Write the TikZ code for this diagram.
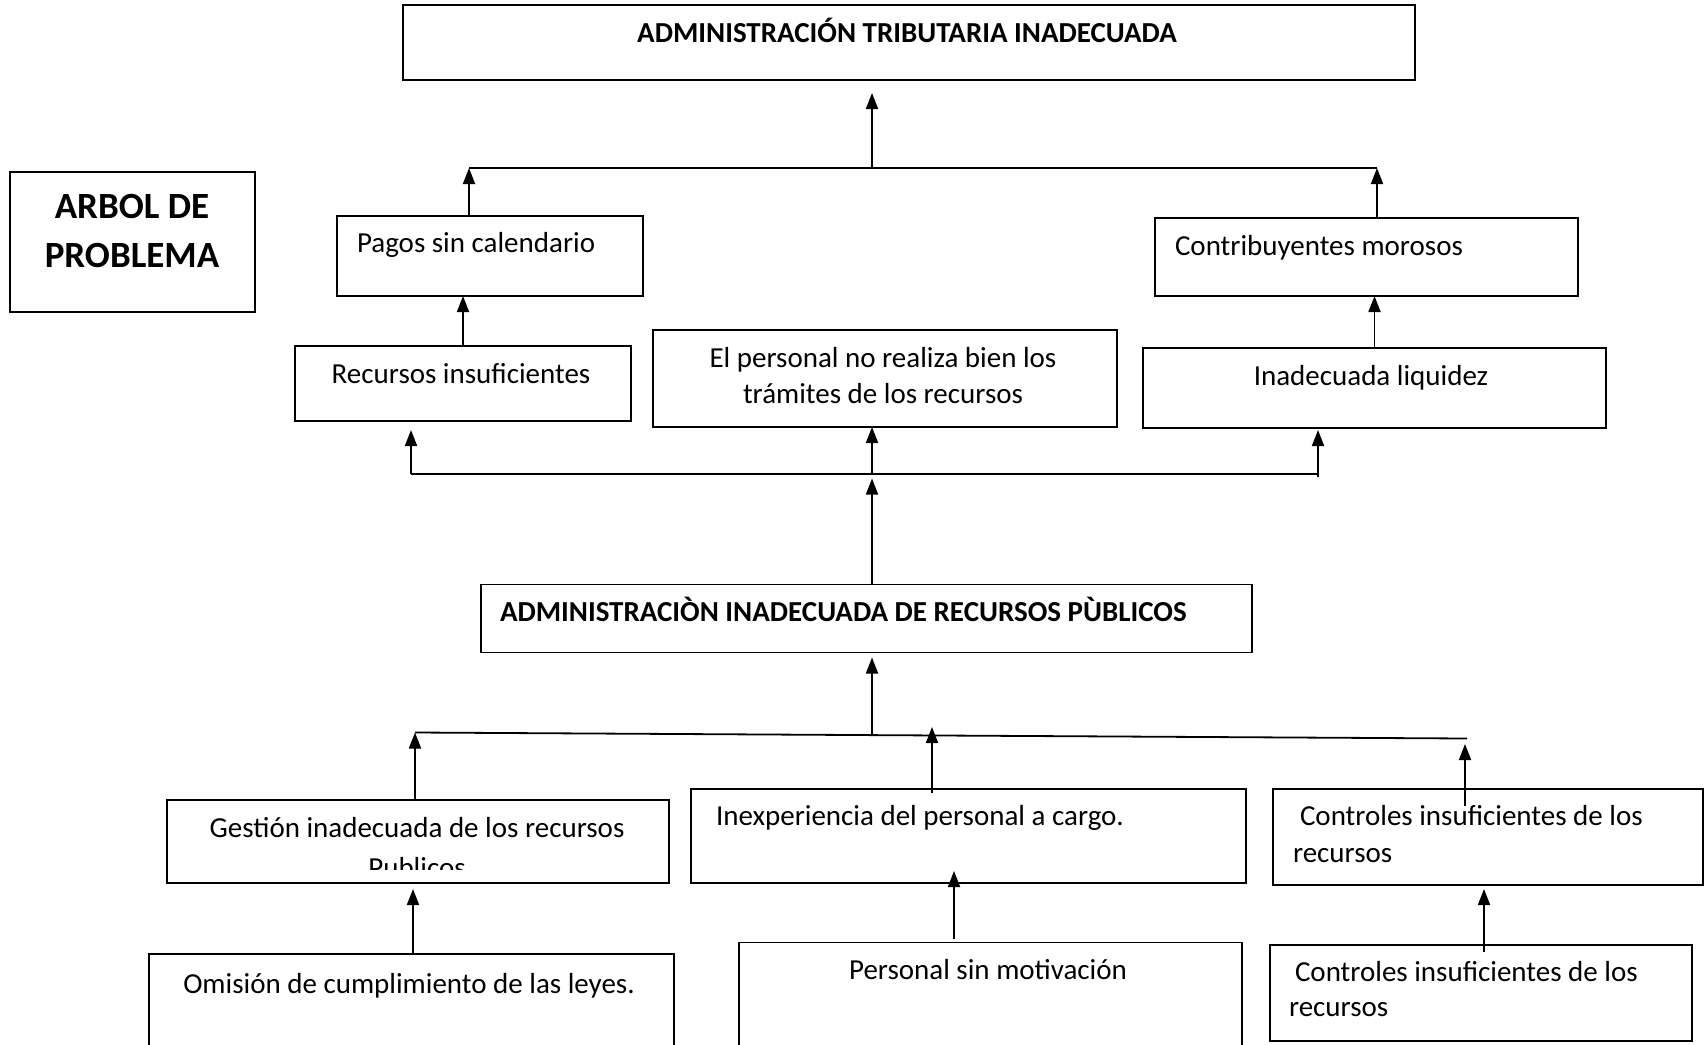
\documentclass[tikz,border=0pt]{standalone}
\usepackage{fontspec}
\setmainfont{Carlito}
\usetikzlibrary{arrows.meta}
\begin{document}
\begin{tikzpicture}[x=1pt,y=-1pt,
  box/.style={draw, line width=1.8pt, rectangle, inner sep=0pt, outer sep=0pt},
  txt/.style={inner sep=0pt, outer sep=0pt, font=\fontsize{29}{36}\selectfont},
  btxt/.style={inner sep=0pt, outer sep=0pt, font=\fontsize{29}{36}\selectfont\bfseries},
  big/.style={inner sep=0pt, outer sep=0pt, font=\fontsize{37}{44}\selectfont\bfseries},
  arr/.style={line width=1.8pt, -{Triangle[length=16pt,width=12pt]}},
  ln/.style={line width=1.8pt}]
\useasboundingbox (0,0) rectangle (1705,1044);
\clip (0,0) rectangle (1705,1044);
\fill[white] (0,0) rectangle (1705,1044);

% boxes
\node[box, minimum width=1012pt, minimum height=75pt] (top) at (909,42.5) {};
\node[box, minimum width=245pt, minimum height=140pt] (arbol) at (132.5,242) {};
\node[box, minimum width=306pt, minimum height=80pt] (pagos) at (490,256) {};
\node[box, minimum width=423pt, minimum height=78pt] (contrib) at (1366.5,257) {};
\node[box, minimum width=336pt, minimum height=75pt] (recursos) at (463,383.5) {};
\node[box, minimum width=464pt, minimum height=97pt] (personal) at (885,378.5) {};
\node[box, minimum width=463pt, minimum height=80pt] (liquidez) at (1374.5,388) {};
\node[box, minimum width=771pt, minimum height=68pt] (admrec) at (866.5,618.5) {};
\node[box, minimum width=502pt, minimum height=83pt] (gestion) at (418,841.5) {};
\node[box, minimum width=555pt, minimum height=94pt] (inexp) at (968.5,836) {};
\node[box, minimum width=430pt, minimum height=96pt] (ctrla) at (1488,837) {};
\node[box, minimum width=525pt, minimum height=116pt] (omision) at (411.5,1012) {};
\node[box, minimum width=503pt, minimum height=127pt] (motiv) at (990.5,1006) {};
\node[box, minimum width=422pt, minimum height=96pt] (ctrlb) at (1481,993) {};

% texts
\node[btxt, anchor=base] (ttop) at (907,42) {ADMINISTRACIÓN TRIBUTARIA INADECUADA};
\node[big, anchor=base] (tarb1) at (132,218) {ARBOL DE};
\node[big, anchor=base] (tarb2) at (132,267) {PROBLEMA};
\node[txt, anchor=base west] (tpag) at (357,252) {Pagos sin calendario};
\node[txt, anchor=base west] (tcon) at (1175,255) {Contribuyentes morosos};
\node[txt, anchor=base] (trec) at (461,383) {Recursos insuficientes};
\node[txt, anchor=base] (tper1) at (883,367) {El personal no realiza bien los};
\node[txt, anchor=base] (tper2) at (883,403) {trámites de los recursos};
\node[txt, anchor=base] (tliq) at (1371,385) {Inadecuada liquidez};
\node[btxt, anchor=base west] (tadm) at (500,621) {ADMINISTRACIÒN INADECUADA DE RECURSOS PÙBLICOS};
\node[txt, anchor=base] (tges1) at (417,837) {Gestión inadecuada de los recursos};
\begin{scope}
\clip (167,800) rectangle (669,869.5);
\node[txt, anchor=base] (tges2) at (417,877) {Publicos};
\end{scope}
\node[txt, anchor=base west] (tinx) at (716,825) {Inexperiencia del personal a cargo.};
\node[txt, anchor=base west] (tca1) at (1300,825) {Controles insuficientes de los};
\node[txt, anchor=base west] (tca2) at (1293,862) {recursos};
\node[txt, anchor=base] (tomi) at (409,993) {Omisión de cumplimiento de las leyes.};
\node[txt, anchor=base] (tmot) at (988,979) {Personal sin motivación};
\node[txt, anchor=base west] (tcb1) at (1295,981) {Controles insuficientes de los};
\node[txt, anchor=base west] (tcb2) at (1289,1016) {recursos};

% bus coordinates
\coordinate (b1L) at (469,168);
\coordinate (b1C) at (872,168);
\coordinate (b1R) at (1377,168);
\coordinate (b2L) at (411,474);
\coordinate (b2C) at (872,474);
\coordinate (b2R) at (1318,474);
\coordinate (b3L) at (415,732.5);
\coordinate (b3C) at (872,734.5);
\coordinate (b3R) at (1467,738.5);
\coordinate (b3I) at (932,727);
\coordinate (c1t) at (1465,744);
\coordinate (xo) at (413,0);
\coordinate (xm) at (954,0);
\coordinate (xc) at (1484,0);

% upper bus
\draw[ln] (b1L) -- (b1R);
\draw[arr] (pagos.north -| b1L) -- (b1L);
\draw[arr] (contrib.north -| b1R) -- (b1R);
\draw[arr] (b1C) -- ([yshift=-13pt]top.south -| b1C);
\draw[arr] (recursos.north) -- (pagos.south -| recursos.north);
\draw[arr] (liquidez.north) -- (contrib.south -| liquidez.north);

% middle bus
\draw[ln] (b2L) -- (b2R);
\draw[arr] (b2L) -- ([yshift=-9pt]recursos.south -| b2L);
\draw[arr] (b2C) -- (personal.south -| b2C);
\draw[arr] ([yshift=-3pt]b2R) -- ([yshift=-2pt]liquidez.south -| b2R);
\draw[arr] (admrec.north -| b2C) -- ([yshift=-4.5pt]b2C);

% lower bus
\draw[ln] (b3L) -- (b3R);
\draw[arr] (b3C) -- ([yshift=-5pt]admrec.south -| b3C);
\draw[arr] (gestion.north -| b3L) -- (b3L);
\draw[arr] ([yshift=-4pt]inexp.north -| b3I) -- (b3I);
\draw[arr] ([yshift=-17pt]ctrla.north -| c1t) -- (c1t);

% bottom arrows
\draw[arr] (omision.north -| xo) -- ([yshift=-6pt]gestion.south -| xo);
\draw[arr] ([yshift=4pt]motiv.north -| xm) -- ([yshift=12pt]inexp.south -| xm);
\draw[arr] ([yshift=-7pt]ctrlb.north -| xc) -- ([yshift=-4pt]ctrla.south -| xc);
\end{tikzpicture}
\end{document}
